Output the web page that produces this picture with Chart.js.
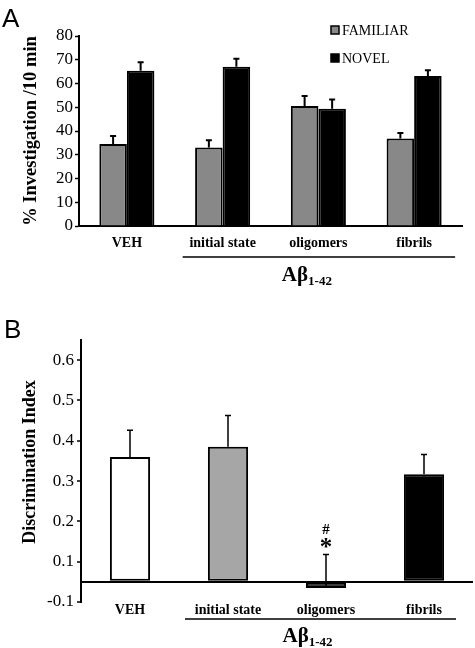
<!DOCTYPE html>
<html>
<head>
<meta charset="utf-8">
<script src="https://cdn.jsdelivr.net/npm/chart.js@4.4.0/dist/chart.umd.min.js"></script>
<style>
  html, body { margin: 0; padding: 0; background: #fff; }
  #wrapA { position: absolute; left: 0; top: 0; width: 475px; height: 300px; }
  #wrapB { position: absolute; left: 0; top: 300px; width: 475px; height: 348px; }
</style>
</head>
<body>
<div id="wrapA"><canvas id="chartA"></canvas></div>
<div id="wrapB"><canvas id="chartB"></canvas></div>
<script>
const groups = ['VEH', 'initial state', 'oligomers', 'fibrils'];

// panel A: % investigation / 10 min
const familiar = [34.5, 33.1, 50.5, 36.8];
const familiarErr = [3.4, 3.0, 4.2, 2.4];
const novel = [65.4, 67.1, 49.4, 63.2];
const novelErr = [3.5, 3.3, 3.9, 2.4];
const yTicksA = [0, 10, 20, 30, 40, 50, 60, 70, 80];

// panel B: discrimination index (the axis in the figure is broken: bottom tick reads -0.1)
const discrim = [0.36, 0.385, 0.035, 0.317];
const discrimErr = [0.066, 0.078, 0.083, 0.049];
const yTicksB = [0, 0.05, 0.1, 0.2, 0.3, 0.4, 0.5, 0.6];
const yLabelsB = ['-0.1', '', '0.1', '0.2', '0.3', '0.4', '0.5', '0.6'];
const baselineB = 0.05;

const serif = '"Liberation Serif", "Times New Roman", serif';
const sans = '"Liberation Sans", Arial, sans-serif';

// upward error bars with a small cap
const errorBars = {
  id: 'errorBars',
  afterDatasetsDraw(chart, args, opts) {
    const ctx = chart.ctx;
    const y = chart.scales.y;
    chart.data.datasets.forEach((ds, i) => {
      if (!ds.errors) return;
      chart.getDatasetMeta(i).data.forEach((bar, j) => {
        const top = y.getPixelForValue(ds.data[j] + ds.errors[j]);
        ctx.save();
        ctx.strokeStyle = '#000';
        ctx.lineWidth = opts.width;
        ctx.beginPath();
        ctx.moveTo(bar.x, bar.y);
        ctx.lineTo(bar.x, top);
        ctx.moveTo(bar.x - opts.cap, top);
        ctx.lineTo(bar.x + opts.cap, top);
        ctx.stroke();
        ctx.restore();
      });
    });
  }
};

// line under the Abeta groups and the Aβ1-42 label
const abetaBracket = {
  id: 'abetaBracket',
  afterDraw(chart, args, opts) {
    const ctx = chart.ctx;
    const x = chart.scales.x;
    const x0 = x.getPixelForValue(1) - opts.left;
    const x1 = x.getPixelForValue(3) + opts.right;
    const ly = chart.chartArea.bottom + opts.lineOffset;
    ctx.save();
    ctx.strokeStyle = '#000';
    ctx.lineWidth = 1.5;
    ctx.beginPath();
    ctx.moveTo(x0, ly);
    ctx.lineTo(x1, ly);
    ctx.stroke();

    ctx.fillStyle = '#000';
    ctx.textBaseline = 'alphabetic';
    ctx.textAlign = 'left';
    const big = 'bold 21px ' + serif;
    const small = 'bold 13px ' + serif;
    ctx.font = big;
    const w1 = ctx.measureText('A\u03B2').width;
    ctx.font = small;
    const w2 = ctx.measureText('1-42').width;
    const sx = (x0 + x1) / 2 - opts.shift - (w1 + w2) / 2;
    const by = ly + opts.textOffset;
    ctx.font = big;
    ctx.fillText('A\u03B2', sx, by);
    ctx.font = small;
    ctx.fillText('1-42', sx + w1, by + 4);
    ctx.restore();
  }
};

// panel letter, legend, significance marks
const extras = {
  id: 'extras',
  afterDraw(chart, args, opts) {
    const ctx = chart.ctx;
    ctx.save();
    ctx.fillStyle = '#000';
    ctx.textBaseline = 'alphabetic';
    ctx.textAlign = 'left';
    ctx.font = '26px ' + sans;
    ctx.fillText(opts.letter, opts.letterX, opts.letterY);

    if (opts.legend) {
      ctx.font = '14px ' + serif;
      chart.data.datasets.forEach((ds, i) => {
        const ly = opts.legendY + i * opts.legendGap;
        ctx.fillStyle = ds.backgroundColor;
        ctx.fillRect(opts.legendX, ly - 9, 8, 8);
        ctx.strokeStyle = '#000';
        ctx.lineWidth = 1.5;
        ctx.strokeRect(opts.legendX, ly - 9, 8, 8);
        ctx.fillStyle = '#000';
        ctx.fillText(ds.label, opts.legendX + 11, ly);
      });
    }

    if (opts.marks) {
      const meta = chart.getDatasetMeta(0);
      const ds = chart.data.datasets[0];
      const bar = meta.data[opts.marks.index];
      const top = chart.scales.y.getPixelForValue(ds.data[opts.marks.index] + ds.errors[opts.marks.index]);
      ctx.textAlign = 'center';
      ctx.font = 'bold 15px ' + serif;
      ctx.fillText('#', bar.x, top - 20);
      ctx.font = 'bold 25px ' + serif;
      ctx.fillText('*', bar.x, top + 1);
    }
    ctx.restore();
  }
};

new Chart(document.getElementById('chartA'), {
  type: 'bar',
  data: {
    labels: groups,
    datasets: [
      { label: 'FAMILIAR', data: familiar, errors: familiarErr, backgroundColor: '#888888', borderColor: '#000', borderWidth: 2 },
      { label: 'NOVEL', data: novel, errors: novelErr, backgroundColor: '#000000', borderColor: '#000', borderWidth: 2 }
    ]
  },
  options: {
    responsive: true,
    maintainAspectRatio: false,
    animation: false,
    layout: { padding: { left: 0, top: 36, right: 13, bottom: 44 } },
    datasets: { bar: { categoryPercentage: 0.575, barPercentage: 1 } },
    plugins: {
      legend: { display: false },
      tooltip: { enabled: false },
      errorBars: { width: 2, cap: 3 },
      abetaBracket: { left: 40, right: 41, lineOffset: 31, textOffset: 24, shift: 12 },
      extras: { letter: 'A', letterX: 2, letterY: 27, legend: true, legendX: 331, legendY: 35, legendGap: 28 }
    },
    scales: {
      x: {
        grid: { display: false, drawTicks: false },
        border: { display: true, color: '#000', width: 2 },
        ticks: { color: '#000', font: { family: serif, size: 14, weight: 'bold' }, padding: 9, maxRotation: 0, autoSkip: false },
        afterFit: s => { s.height = 30; }
      },
      y: {
        min: 0,
        max: 80,
        afterBuildTicks: s => { s.ticks = yTicksA.map(v => ({ value: v })); },
        grid: { drawOnChartArea: false, color: '#000', tickLength: 4, tickWidth: 1.5 },
        border: { color: '#000', width: 2 },
        ticks: { color: '#000', font: { family: serif, size: 17 }, padding: 2 },
        title: { display: true, text: '% Investigation /10 min', color: '#000', font: { family: serif, size: 18.5, weight: 'bold' }, padding: { top: 20, bottom: 0 } },
        afterFit: s => { s.width = 79; }
      }
    }
  },
  plugins: [errorBars, abetaBracket, extras]
});

new Chart(document.getElementById('chartB'), {
  type: 'bar',
  data: {
    labels: groups,
    datasets: [
      {
        label: 'Discrimination Index',
        data: discrim,
        errors: discrimErr,
        base: baselineB,
        backgroundColor: ['#ffffff', '#a6a6a6', '#3a3a3a', '#000000'],
        borderColor: '#000',
        borderWidth: 2,
        borderSkipped: false
      }
    ]
  },
  options: {
    responsive: true,
    maintainAspectRatio: false,
    animation: false,
    layout: { padding: { left: 0, top: 40, right: 2, bottom: 20 } },
    datasets: { bar: { categoryPercentage: 1, barPercentage: 0.41 } },
    plugins: {
      legend: { display: false },
      tooltip: { enabled: false },
      errorBars: { width: 1.5, cap: 3 },
      abetaBracket: { left: 43, right: 32, lineOffset: 17, textOffset: 23, shift: 13 },
      extras: { letter: 'B', letterX: 4, letterY: 38, legend: false, marks: { index: 2 } }
    },
    scales: {
      x: {
        grid: { display: false, drawTicks: false },
        border: { display: false },
        ticks: { color: '#000', font: { family: serif, size: 14, weight: 'bold' }, padding: 0, maxRotation: 0, autoSkip: false },
        afterFit: s => { s.height = 26; }
      },
      y: {
        min: 0,
        max: 0.65,
        afterBuildTicks: s => { s.ticks = yTicksB.map(v => ({ value: v })); },
        grid: {
          drawOnChartArea: true,
          lineWidth: 2,
          color: c => (c.tick && c.tick.value === baselineB ? '#000' : 'rgba(0,0,0,0)'),
          tickColor: c => (c.tick && c.tick.value === baselineB ? 'rgba(0,0,0,0)' : '#000'),
          tickLength: 4,
          tickWidth: 1.5
        },
        border: { color: '#000', width: 2 },
        ticks: {
          color: '#000',
          autoSkip: false,
          font: { family: serif, size: 17 },
          padding: 3,
          callback: (v, i) => yLabelsB[yTicksB.indexOf(v)]
        },
        // leading spaces nudge the rotated title upward like in the figure
        title: { display: true, text: '    Discrimination Index', color: '#000', font: { family: serif, size: 18, weight: 'bold' }, padding: { top: 20, bottom: 0 } },
        afterFit: s => { s.width = 81; }
      }
    }
  },
  plugins: [errorBars, abetaBracket, extras]
});
</script>
</body>
</html>
